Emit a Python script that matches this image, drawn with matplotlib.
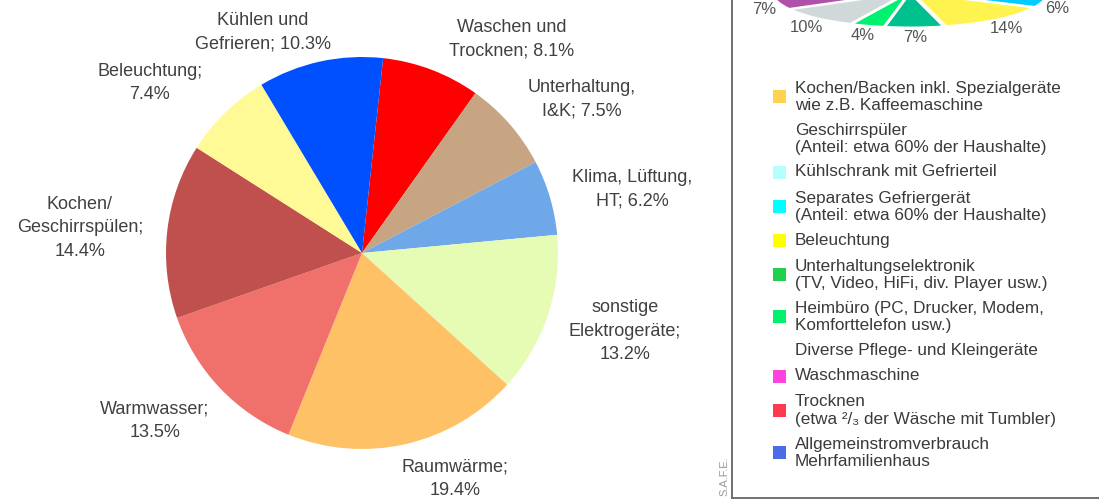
import numpy as np
import matplotlib
matplotlib.use("Agg")
import matplotlib.pyplot as plt
import matplotlib.patches as mpatches
from matplotlib.lines import Line2D

plt.rcParams["font.family"] = ["Liberation Sans", "DejaVu Sans"]

# --- main pie: Stromverbrauch nach Anwendung ---
categories = ["Waschen und\nTrocknen", "Unterhaltung,\nI&K", "Klima, Lüftung,\nHT",
              "sonstige\nElektrogeräte", "Raumwärme", "Warmwasser",
              "Kochen/\nGeschirrspülen", "Beleuchtung", "Kühlen und\nGefrieren"]
shares = [8.1, 7.5, 6.2, 13.2, 19.4, 13.5, 14.4, 7.4, 10.3]
value_newline = [False, False, False, True, True, True, True, True, False]
colors = ["#FF0000", "#C8A582", "#6FA8E8", "#E6FCB4", "#FFC166",
          "#F0716B", "#C0504D", "#FFFA96", "#0050FF"]
# label anchor points (pie data coords, radius 1)
label_pos = [(0.765, 1.09), (1.122, 0.786), (1.378, 0.327), (1.342, -0.398),
             (0.474, -1.153), (-1.056, -0.857), (-1.439, 0.128),
             (-1.082, 0.867), (-0.505, 1.128)]

# --- cropped second chart (legend + lower edge of its pie) ---
legend_items = ["Kochen/Backen inkl. Spezialgeräte\nwie z.B. Kaffeemaschine",
                "Geschirrspüler\n(Anteil: etwa 60% der Haushalte)",
                "Kühlschrank mit Gefrierteil",
                "Separates Gefriergerät\n(Anteil: etwa 60% der Haushalte)",
                "Beleuchtung",
                "Unterhaltungselektronik\n(TV, Video, HiFi, div. Player usw.)",
                "Heimbüro (PC, Drucker, Modem,\nKomforttelefon usw.)",
                "Diverse Pflege- und Kleingeräte",
                "Waschmaschine",
                "Trocknen\n(etwa ²/₃ der Wäsche mit Tumbler)",
                "Allgemeinstromverbrauch\nMehrfamilienhaus"]
legend_colors = ["#FFD24F", None, "#B5FFFF", "#00FFFF", "#FFFF00", "#22D04F",
                 "#00F070", None, "#FF44DD", "#FF3A50", "#4A6CE6"]
small_shares = [12, 6, 8, 6, 14, 7, 4, 10, 7, 9, 17]
small_colors = ["#FFD24F", "#F4F4F4", "#B5FFFF", "#00CCFF", "#FFF350", "#00C090",
                "#00F070", "#D0D8DA", "#B050A8", "#FF3A50", "#4A6CE6"]
visible = [False, False, False, True, True, True, True, True, True, False, False]

W, H = 1099, 500
fig = plt.figure(figsize=(W / 100, H / 100), dpi=100)
fig.patch.set_facecolor("white")

# main pie: center (362, 253) px, radius 196 px
cx, cy, r = 362, 253, 196
ax = fig.add_axes([(cx - r) / W, (H - cy - r) / H, 2 * r / W, 2 * r / H])
ax.pie(shares, colors=colors, startangle=83.8, counterclock=False,
       wedgeprops=dict(linewidth=0))
ax.set_xlim(-1, 1)
ax.set_ylim(-1, 1)
for name, val, nl, (lx, ly) in zip(categories, shares, value_newline, label_pos):
    sep = ";\n" if nl else "; "
    ax.text(lx, ly, f"{name}{sep}{val:.1f}%", ha="center", va="center",
            fontsize=13, color="#404040", linespacing=1.5)

# lower part of the second pie, its centre lies just above the figure
pcx, pcy, pa, pb = 910, -8, 132, 34
ax2 = fig.add_axes([(pcx - pa) / W, (H - pcy - pb) / H, 2 * pa / W, 2 * pb / H])
wedges, _ = ax2.pie(small_shares, colors=small_colors, startangle=90,
                    counterclock=False, explode=[0.04] * len(small_shares),
                    wedgeprops=dict(edgecolor="white", linewidth=1.2))
ax2.set_aspect("auto")
ax2.set_xlim(-1, 1)
ax2.set_ylim(-1, 1)
for w, v, vis in zip(wedges, small_shares, visible):
    if not vis:
        continue
    mid = np.deg2rad((w.theta1 + w.theta2) / 2)
    ax2.text(1.15 * np.cos(mid), 1.15 * np.sin(mid) - 0.2, f"{v}%", ha="center",
             va="center", fontsize=12, color="#555555")

# frame of the cropped chart
fc = "#707070"
fig.add_artist(Line2D([732 / W, 732 / W], [2 / H, 1], transform=fig.transFigure,
                      color=fc, linewidth=1.4))
fig.add_artist(Line2D([732 / W, 1], [2 / H, 2 / H], transform=fig.transFigure,
                      color=fc, linewidth=1.4))
fig.text(724 / W, 24 / H, "S.A.F.E.", rotation=90, fontsize=8,
         color="#9A9A9A", ha="center", va="center")

# legend of the cropped chart
y = 88
line_h = 17
for text, col in zip(legend_items, legend_colors):
    n = text.count("\n") + 1
    if col is not None:
        yc = y + (n - 1) * line_h / 2
        fig.add_artist(mpatches.Rectangle((773 / W, (H - yc - 6.5) / H), 13 / W, 13 / H,
                                          transform=fig.transFigure, facecolor=col,
                                          edgecolor="none"))
    fig.text(795 / W, (H - y + 7.5) / H, text, ha="left", va="top", fontsize=12.3,
             color="#3A3A3A", linespacing=1.2)
    y += n * line_h + (8 if n > 1 else 9)

fig.savefig("out.png", dpi=100, facecolor="white")
